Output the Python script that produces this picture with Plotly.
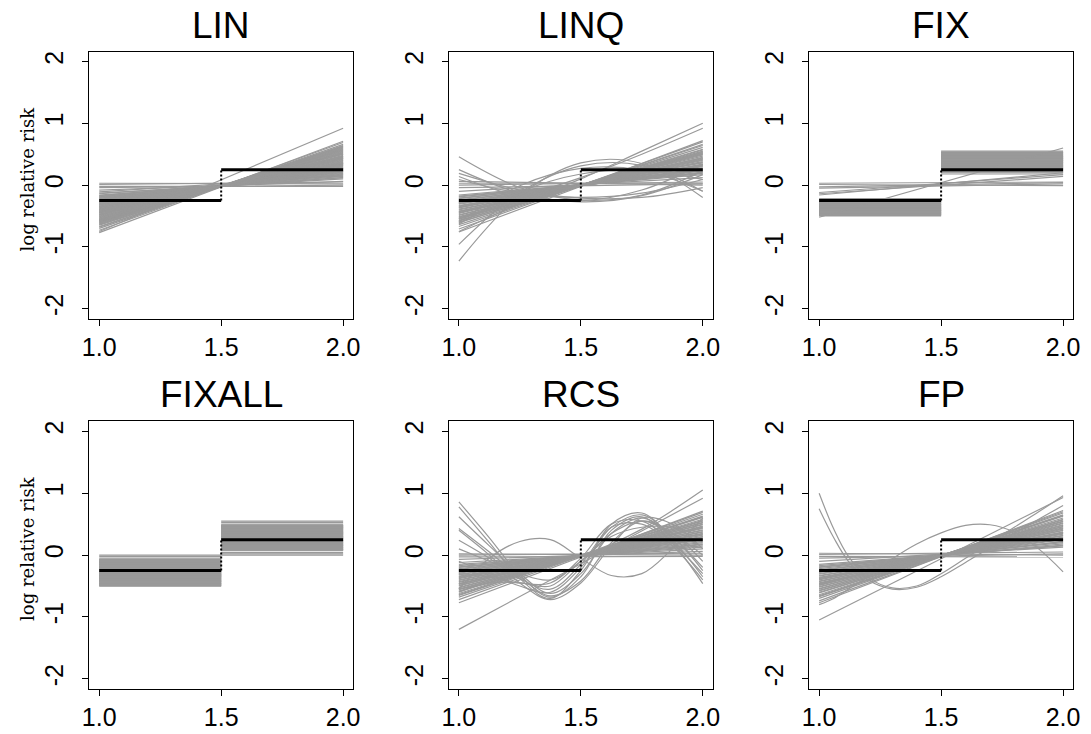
import plotly.graph_objects as go

# ---------------- data ----------------
PANEL_TITLES = ["LIN", "LINQ", "FIX", "FIXALL", "RCS", "FP"]
X_TICKS = [1.0, 1.5, 2.0]
X_TICK_TEXT = ["1.0", "1.5", "2.0"]
Y_TICKS = [-2, -1, 0, 1, 2]
Y_TICK_TEXT = ["-2", "-1", "0", "1", "2"]
Y_TITLE = "log relative risk"

# true step function
TRUE_X = [1.0, 1.5, 2.0]
TRUE_LEFT = -0.25
TRUE_RIGHT = 0.25

# straight fitted lines: value at x=1 and at x=2
LIN_X = [1.0, 2.0]
LIN_y1 = [0.03, 0.01, -0.02, -0.04, -0.08, -0.11, -0.14, -0.17, -0.19, -0.21, -0.23, -0.25,
          -0.27, -0.29, -0.31, -0.33, -0.35, -0.37, -0.39, -0.41, -0.43, -0.45, -0.47, -0.49,
          -0.51, -0.53, -0.55, -0.57, -0.59, -0.61, -0.63, -0.65, -0.67, -0.70, -0.73, -0.77, -0.75,
          -0.16, -0.20, -0.24, -0.28, -0.32, -0.36, -0.40, -0.44, -0.48, -0.52, -0.56, -0.60,
          -0.64, -0.68, -0.13, -0.26, -0.34, -0.42, -0.50, -0.58, -0.46, -0.38, -0.30, -0.22,
          -0.18, -0.35, -0.44, -0.54, -0.62, -0.27, -0.40, -0.31, -0.48, -0.57]
LIN_y2 = [0.02, 0.05, -0.02, 0.00, 0.06, 0.15, 0.12, 0.17, 0.20, 0.18, 0.22, 0.24,
          0.26, 0.25, 0.29, 0.30, 0.33, 0.34, 0.36, 0.38, 0.40, 0.42, 0.43, 0.46,
          0.47, 0.50, 0.52, 0.53, 0.56, 0.58, 0.60, 0.62, 0.63, 0.66, 0.69, 0.71, 0.92,
          0.12, 0.16, 0.21, 0.23, 0.28, 0.32, 0.35, 0.41, 0.44, 0.48, 0.51, 0.57,
          0.59, 0.64, 0.10, 0.22, 0.31, 0.37, 0.45, 0.54, 0.43, 0.35, 0.27, 0.19,
          0.14, 0.33, 0.39, 0.50, 0.61, 0.24, 0.36, 0.28, 0.46, 0.55]

LINQ_y1 = [0.06, 0.03, 0.00, -0.04, -0.10, -0.16, -0.19, -0.22, -0.25, -0.28, -0.31, -0.34, -0.37,
           -0.40, -0.43, -0.46, -0.49, -0.52, -0.55, -0.58, -0.61, -0.64, -0.67, -0.71, -0.76,
           -0.18, -0.24, -0.30, -0.36, -0.42, -0.48, -0.54, -0.60, -0.21, -0.33, -0.45, -0.27,
           -0.39, -0.51, -0.57, -0.35, -0.44, -0.29, -0.53]
LINQ_y2 = [0.00, 0.03, 0.05, 0.02, 0.12, 0.17, 0.20, 0.24, 0.26, 0.30, 0.32, 0.36, 0.38,
           0.41, 0.44, 0.47, 0.50, 0.53, 0.55, 0.58, 0.61, 0.64, 0.66, 0.70, 0.72,
           0.19, 0.23, 0.28, 0.34, 0.40, 0.45, 0.52, 0.57, 0.21, 0.31, 0.43, 0.25,
           0.37, 0.49, 0.54, 0.33, 0.42, 0.27, 0.51]
# curved LINQ fits, values at x = 1, 1.25, 1.5, 1.75, 2
LINQ_CX = [1.0, 1.25, 1.5, 1.75, 2.0]
LINQ_curves = [
    [0.46, -0.04, -0.24, -0.16, 0.23],
    [0.25, -0.13, -0.27, -0.17, 0.17],
    [0.19, -0.08, -0.21, -0.20, -0.04],
    [0.14, -0.18, -0.255, -0.08, 0.34],
    [0.09, -0.13, -0.20, -0.13, 0.09],
    [-1.23, -0.17, 0.36, 0.35, -0.20],
    [-0.96, -0.12, 0.31, 0.32, -0.10],
    [-0.60, -0.01, 0.27, 0.24, -0.10],
    [-0.63, -0.11, 0.18, 0.245, 0.09],
    [-0.75, -0.30, 0.10, 0.55, 1.00],
    [-0.55, -0.20, 0.12, 0.50, 0.92],
]

FIX_left = [-0.22, -0.25, -0.27, -0.29, -0.30, -0.32, -0.33, -0.35, -0.36, -0.37, -0.38, -0.40,
            -0.41, -0.42, -0.43, -0.44, -0.45, -0.46, -0.47, -0.48, -0.49, -0.50, -0.34, -0.39,
            -0.31, -0.28, -0.26, -0.44, -0.41, -0.36, -0.235, -0.255, -0.265, -0.285, -0.305,
            -0.315, -0.325, -0.345, -0.355, -0.375, -0.385, -0.395, -0.405, -0.415, -0.425,
            -0.435, -0.455, -0.465, -0.475, -0.485]
FIX_right = [0.55, 0.53, 0.52, 0.50, 0.48, 0.47, 0.45, 0.44, 0.42, 0.41, 0.40, 0.38,
             0.37, 0.35, 0.33, 0.32, 0.30, 0.28, 0.27, 0.25, 0.23, 0.22, 0.20, 0.18,
             0.43, 0.36, 0.29, 0.39, 0.46, 0.31, 0.535, 0.515, 0.495, 0.485, 0.465,
             0.455, 0.435, 0.425, 0.405, 0.395, 0.375, 0.365, 0.345, 0.335, 0.315,
             0.305, 0.285, 0.265, 0.245, 0.215]
FIX_lin_y1 = [0.03, 0.01, -0.05, -0.03, -0.12, -0.16, -0.14, -0.52]
FIX_lin_y2 = [0.05, -0.01, 0.02, 0.04, 0.17, 0.20, 0.14, 0.60]

FIXALL_left = [0.00, -0.02, -0.05, -0.07, -0.08, -0.10, -0.11, -0.12, -0.14, -0.15, -0.16, -0.18,
               -0.19, -0.20, -0.22, -0.23, -0.24, -0.26, -0.27, -0.28, -0.30, -0.31, -0.32, -0.34,
               -0.35, -0.36, -0.38, -0.39, -0.41, -0.42, -0.43, -0.45, -0.46, -0.47, -0.49, -0.50,
               -0.21, -0.33, -0.075, -0.095, -0.115, -0.135, -0.155, -0.175, -0.195, -0.215,
               -0.235, -0.255, -0.275, -0.295, -0.315, -0.335, -0.355, -0.375, -0.395, -0.415,
               -0.435, -0.455, -0.475, -0.495, -0.085, -0.105, -0.125, -0.145, -0.165, -0.185,
               -0.205, -0.225, -0.245, -0.265, -0.285, -0.305, -0.325, -0.345, -0.365, -0.385,
               -0.405, -0.425, -0.445, -0.465, -0.485]
FIXALL_right = [0.55, 0.53, 0.50, 0.48, 0.47, 0.45, 0.44, 0.43, 0.41, 0.40, 0.38, 0.37,
                0.36, 0.34, 0.33, 0.31, 0.30, 0.29, 0.27, 0.26, 0.24, 0.23, 0.22, 0.20,
                0.19, 0.17, 0.16, 0.15, 0.13, 0.12, 0.10, 0.09, 0.07, 0.04, 0.02, 0.00,
                0.28, 0.35, 0.485, 0.465, 0.445, 0.425, 0.405, 0.385, 0.365, 0.345,
                0.325, 0.305, 0.285, 0.265, 0.245, 0.225, 0.205, 0.185, 0.165, 0.145,
                0.125, 0.105, 0.085, 0.46, 0.475, 0.455, 0.435, 0.415, 0.395, 0.375,
                0.355, 0.335, 0.315, 0.295, 0.275, 0.255, 0.235, 0.215, 0.195, 0.175,
                0.155, 0.135, 0.115, 0.095, 0.08]

RCS_y1 = [0.02, 0.00, -0.03, -0.07, -0.12, -0.17, -0.20, -0.23, -0.26, -0.29, -0.32, -0.35, -0.38,
          -0.41, -0.44, -0.47, -0.50, -0.53, -0.56, -0.59, -0.62, -0.65, -0.68, -0.72, -0.77, -1.20,
          -0.15, -0.22, -0.28, -0.34, -0.40, -0.46, -0.52, -0.58, -0.64, -0.25, -0.37, -0.49,
          -0.31, -0.43, -0.19, -0.55, -0.36, -0.47]
RCS_y2 = [0.00, 0.03, -0.02, 0.06, 0.10, 0.15, 0.18, 0.22, 0.25, 0.28, 0.30, 0.34, 0.37,
          0.40, 0.43, 0.46, 0.49, 0.52, 0.55, 0.58, 0.61, 0.63, 0.66, 0.69, 0.71, 0.92,
          0.13, 0.20, 0.27, 0.32, 0.38, 0.44, 0.50, 0.56, 0.62, 0.24, 0.35, 0.47,
          0.29, 0.41, 0.17, 0.53, 0.34, 0.45]
# curved RCS fits, values at x = 1, 1.125, ..., 2
RCS_CX = [1.0, 1.125, 1.25, 1.375, 1.5, 1.625, 1.75, 1.875, 2.0]
RCS_curves = [
    [0.86, 0.28, -0.32, -0.68, -0.35, 0.40, 0.62, 0.20, -0.46],
    [0.78, 0.20, -0.38, -0.70, -0.25, 0.50, 0.68, 0.25, -0.35],
    [0.62, 0.15, -0.30, -0.62, -0.30, 0.35, 0.60, 0.30, -0.25],
    [0.43, 0.05, -0.35, -0.66, -0.42, 0.20, 0.55, 0.35, -0.10],
    [0.24, -0.05, -0.38, -0.55, -0.15, 0.45, 0.50, 0.15, -0.40],
    [-0.10, -0.30, -0.50, -0.60, -0.20, 0.45, 0.65, 0.30, -0.20],
    [-0.30, -0.35, -0.45, -0.45, -0.05, 0.50, 0.55, 0.20, -0.30],
    [-0.55, -0.05, 0.22, 0.25, -0.05, -0.33, -0.30, 0.10, 0.60],
    [-0.60, -0.45, -0.45, -0.50, -0.10, 0.30, 0.45, 0.45, 0.30],
    [0.40, 0.00, -0.45, -0.72, -0.45, 0.15, 0.60, 0.50, 0.10],
    [-0.55, -0.45, -0.30, -0.15, 0.00, 0.18, 0.42, 0.72, 1.05],
    [0.10, -0.10, -0.30, -0.40, -0.10, 0.35, 0.55, 0.35, 0.00],
]

FP_y1 = [0.03, 0.01, -0.02, -0.05, -0.10, -0.15, -0.19, -0.22, -0.25, -0.28, -0.31, -0.34, -0.37,
         -0.40, -0.43, -0.46, -0.49, -0.52, -0.55, -0.58, -0.61, -0.64, -0.67, -0.70, -0.74, -0.77,
         -1.05, -0.17, -0.24, -0.30, -0.36, -0.42, -0.48, -0.54, -0.60, -0.66, -0.27, -0.39,
         -0.51, -0.33, -0.45, -0.20, -0.57, -0.38, -0.47]
FP_y2 = [0.00, 0.05, -0.03, 0.02, 0.13, 0.15, 0.20, 0.22, 0.26, 0.28, 0.32, 0.35, 0.37,
         0.40, 0.43, 0.46, 0.49, 0.52, 0.55, 0.57, 0.60, 0.63, 0.65, 0.68, 0.70, 0.72,
         0.93, 0.16, 0.22, 0.29, 0.34, 0.40, 0.46, 0.51, 0.58, 0.64, 0.25, 0.37,
         0.48, 0.31, 0.42, 0.18, 0.54, 0.36, 0.44]
FP_CX = [1.0, 1.06, 1.12, 1.2, 1.3, 1.4, 1.5, 1.6, 1.7, 1.8, 1.9, 2.0]
FP_curves = [
    [1.00, 0.42, -0.02, -0.36, -0.53, -0.50, -0.30, -0.05, 0.20, 0.45, 0.70, 0.96],
    [0.75, 0.28, -0.10, -0.40, -0.55, -0.52, -0.35, -0.12, 0.12, 0.35, 0.58, 0.80],
    [-0.80, -0.70, -0.55, -0.35, -0.06, 0.18, 0.36, 0.48, 0.49, 0.37, 0.10, -0.27],
]

# ---------------- layout geometry ----------------
W, H = 1091, 734
COL_PX = [(82.7, 350.0), (447.7, 715.0), (813.3, 1080.7)]
ROW_PX = [(50.7, 318.0), (421.0, 688.7)]
GRAY = "#999999"
LW = 1.2

fig = go.Figure()


def seg_trace(xs_list, ys_list, ax, shape="linear"):
    xx, yy = [], []
    for xs, ys in zip(xs_list, ys_list):
        xx += list(xs) + [None]
        yy += list(ys) + [None]
    return go.Scatter(x=xx, y=yy, mode="lines", xaxis=ax[0], yaxis=ax[1],
                      line=dict(color=GRAY, width=LW, shape=shape),
                      hoverinfo="skip", showlegend=False, connectgaps=False)


def straight(y1, y2):
    return [LIN_X] * len(y1), [[a, b] for a, b in zip(y1, y2)]


def steps(left, right):
    xs, ys = [], []
    for l, r in zip(left, right):
        xs.append([TRUE_X[0], TRUE_X[1]]); ys.append([l, l])
        xs.append([TRUE_X[1], TRUE_X[2]]); ys.append([r, r])
    return xs, ys


for i, title in enumerate(PANEL_TITLES):
    n = i + 1
    ax = ("x" if n == 1 else f"x{n}", "y" if n == 1 else f"y{n}")
    if title == "LIN":
        xs, ys = straight(LIN_y1, LIN_y2)
        fig.add_trace(seg_trace(xs, ys, ax))
    elif title == "LINQ":
        xs, ys = straight(LINQ_y1, LINQ_y2)
        fig.add_trace(seg_trace(xs, ys, ax))
        fig.add_trace(seg_trace([LINQ_CX] * len(LINQ_curves), LINQ_curves, ax, "spline"))
    elif title == "FIX":
        xs, ys = steps(FIX_left, FIX_right)
        fig.add_trace(seg_trace(xs, ys, ax))
        xs, ys = straight(FIX_lin_y1, FIX_lin_y2)
        fig.add_trace(seg_trace(xs, ys, ax))
    elif title == "FIXALL":
        xs, ys = steps(FIXALL_left, FIXALL_right)
        fig.add_trace(seg_trace(xs, ys, ax))
    elif title == "RCS":
        xs, ys = straight(RCS_y1, RCS_y2)
        fig.add_trace(seg_trace(xs, ys, ax))
        fig.add_trace(seg_trace([RCS_CX] * len(RCS_curves), RCS_curves, ax, "spline"))
    elif title == "FP":
        xs, ys = straight(FP_y1, FP_y2)
        fig.add_trace(seg_trace(xs, ys, ax))
        fig.add_trace(seg_trace([FP_CX] * len(FP_curves), FP_curves, ax, "spline"))

    # true step function
    fig.add_trace(go.Scatter(x=[TRUE_X[0], TRUE_X[1], None, TRUE_X[1], TRUE_X[2]],
                             y=[TRUE_LEFT, TRUE_LEFT, None, TRUE_RIGHT, TRUE_RIGHT],
                             mode="lines", xaxis=ax[0], yaxis=ax[1],
                             line=dict(color="black", width=3), hoverinfo="skip",
                             showlegend=False))
    fig.add_trace(go.Scatter(x=[TRUE_X[1], TRUE_X[1]], y=[TRUE_LEFT, TRUE_RIGHT],
                             mode="lines", xaxis=ax[0], yaxis=ax[1],
                             line=dict(color="black", width=2, dash="2px,2px"),
                             hoverinfo="skip", showlegend=False))

    r, c = divmod(i, 3)
    x0, x1 = COL_PX[c]
    yt, yb = ROW_PX[r]
    axis_common = dict(showgrid=False, zeroline=False, showline=True, mirror=True,
                       linecolor="black", linewidth=1, ticks="outside", ticklen=6,
                       tickwidth=1, tickcolor="black",
                       tickfont=dict(family="Liberation Sans, Arial, sans-serif",
                                     size=25, color="black"))
    fig.layout[f"xaxis{'' if n == 1 else n}"] = dict(
        domain=[x0 / W, x1 / W], anchor=ax[1], range=[0.96, 2.04],
        tickvals=X_TICKS, ticktext=X_TICK_TEXT, **axis_common)
    fig.layout[f"yaxis{'' if n == 1 else n}"] = dict(
        domain=[1 - yb / H, 1 - yt / H], anchor=ax[0], range=[-2.16, 2.16],
        tickvals=Y_TICKS, ticktext=Y_TICK_TEXT, tickangle=-90, ticklabelstandoff=9,
        **axis_common)

    fig.add_annotation(text=title, x=(x0 + x1) / 2 / W, y=1 - (25 if r == 0 else 394) / H,
                       xref="paper", yref="paper", xanchor="center", yanchor="middle",
                       showarrow=False,
                       font=dict(family="Liberation Sans, Arial, sans-serif", size=37,
                                 color="black"))
    if c == 0:
        fig.add_annotation(text=Y_TITLE, x=20 / W, y=1 - (178 if r == 0 else 548) / H,
                           xref="paper", yref="paper", xanchor="center", yanchor="middle",
                           textangle=-90, showarrow=False,
                           font=dict(family="DejaVu Serif, serif", size=18, color="black"))

fig.update_layout(width=W, height=H, autosize=False,
                  margin=dict(l=0, r=0, t=0, b=0),
                  paper_bgcolor="white", plot_bgcolor="white", showlegend=False)

fig.write_html("out.html")
